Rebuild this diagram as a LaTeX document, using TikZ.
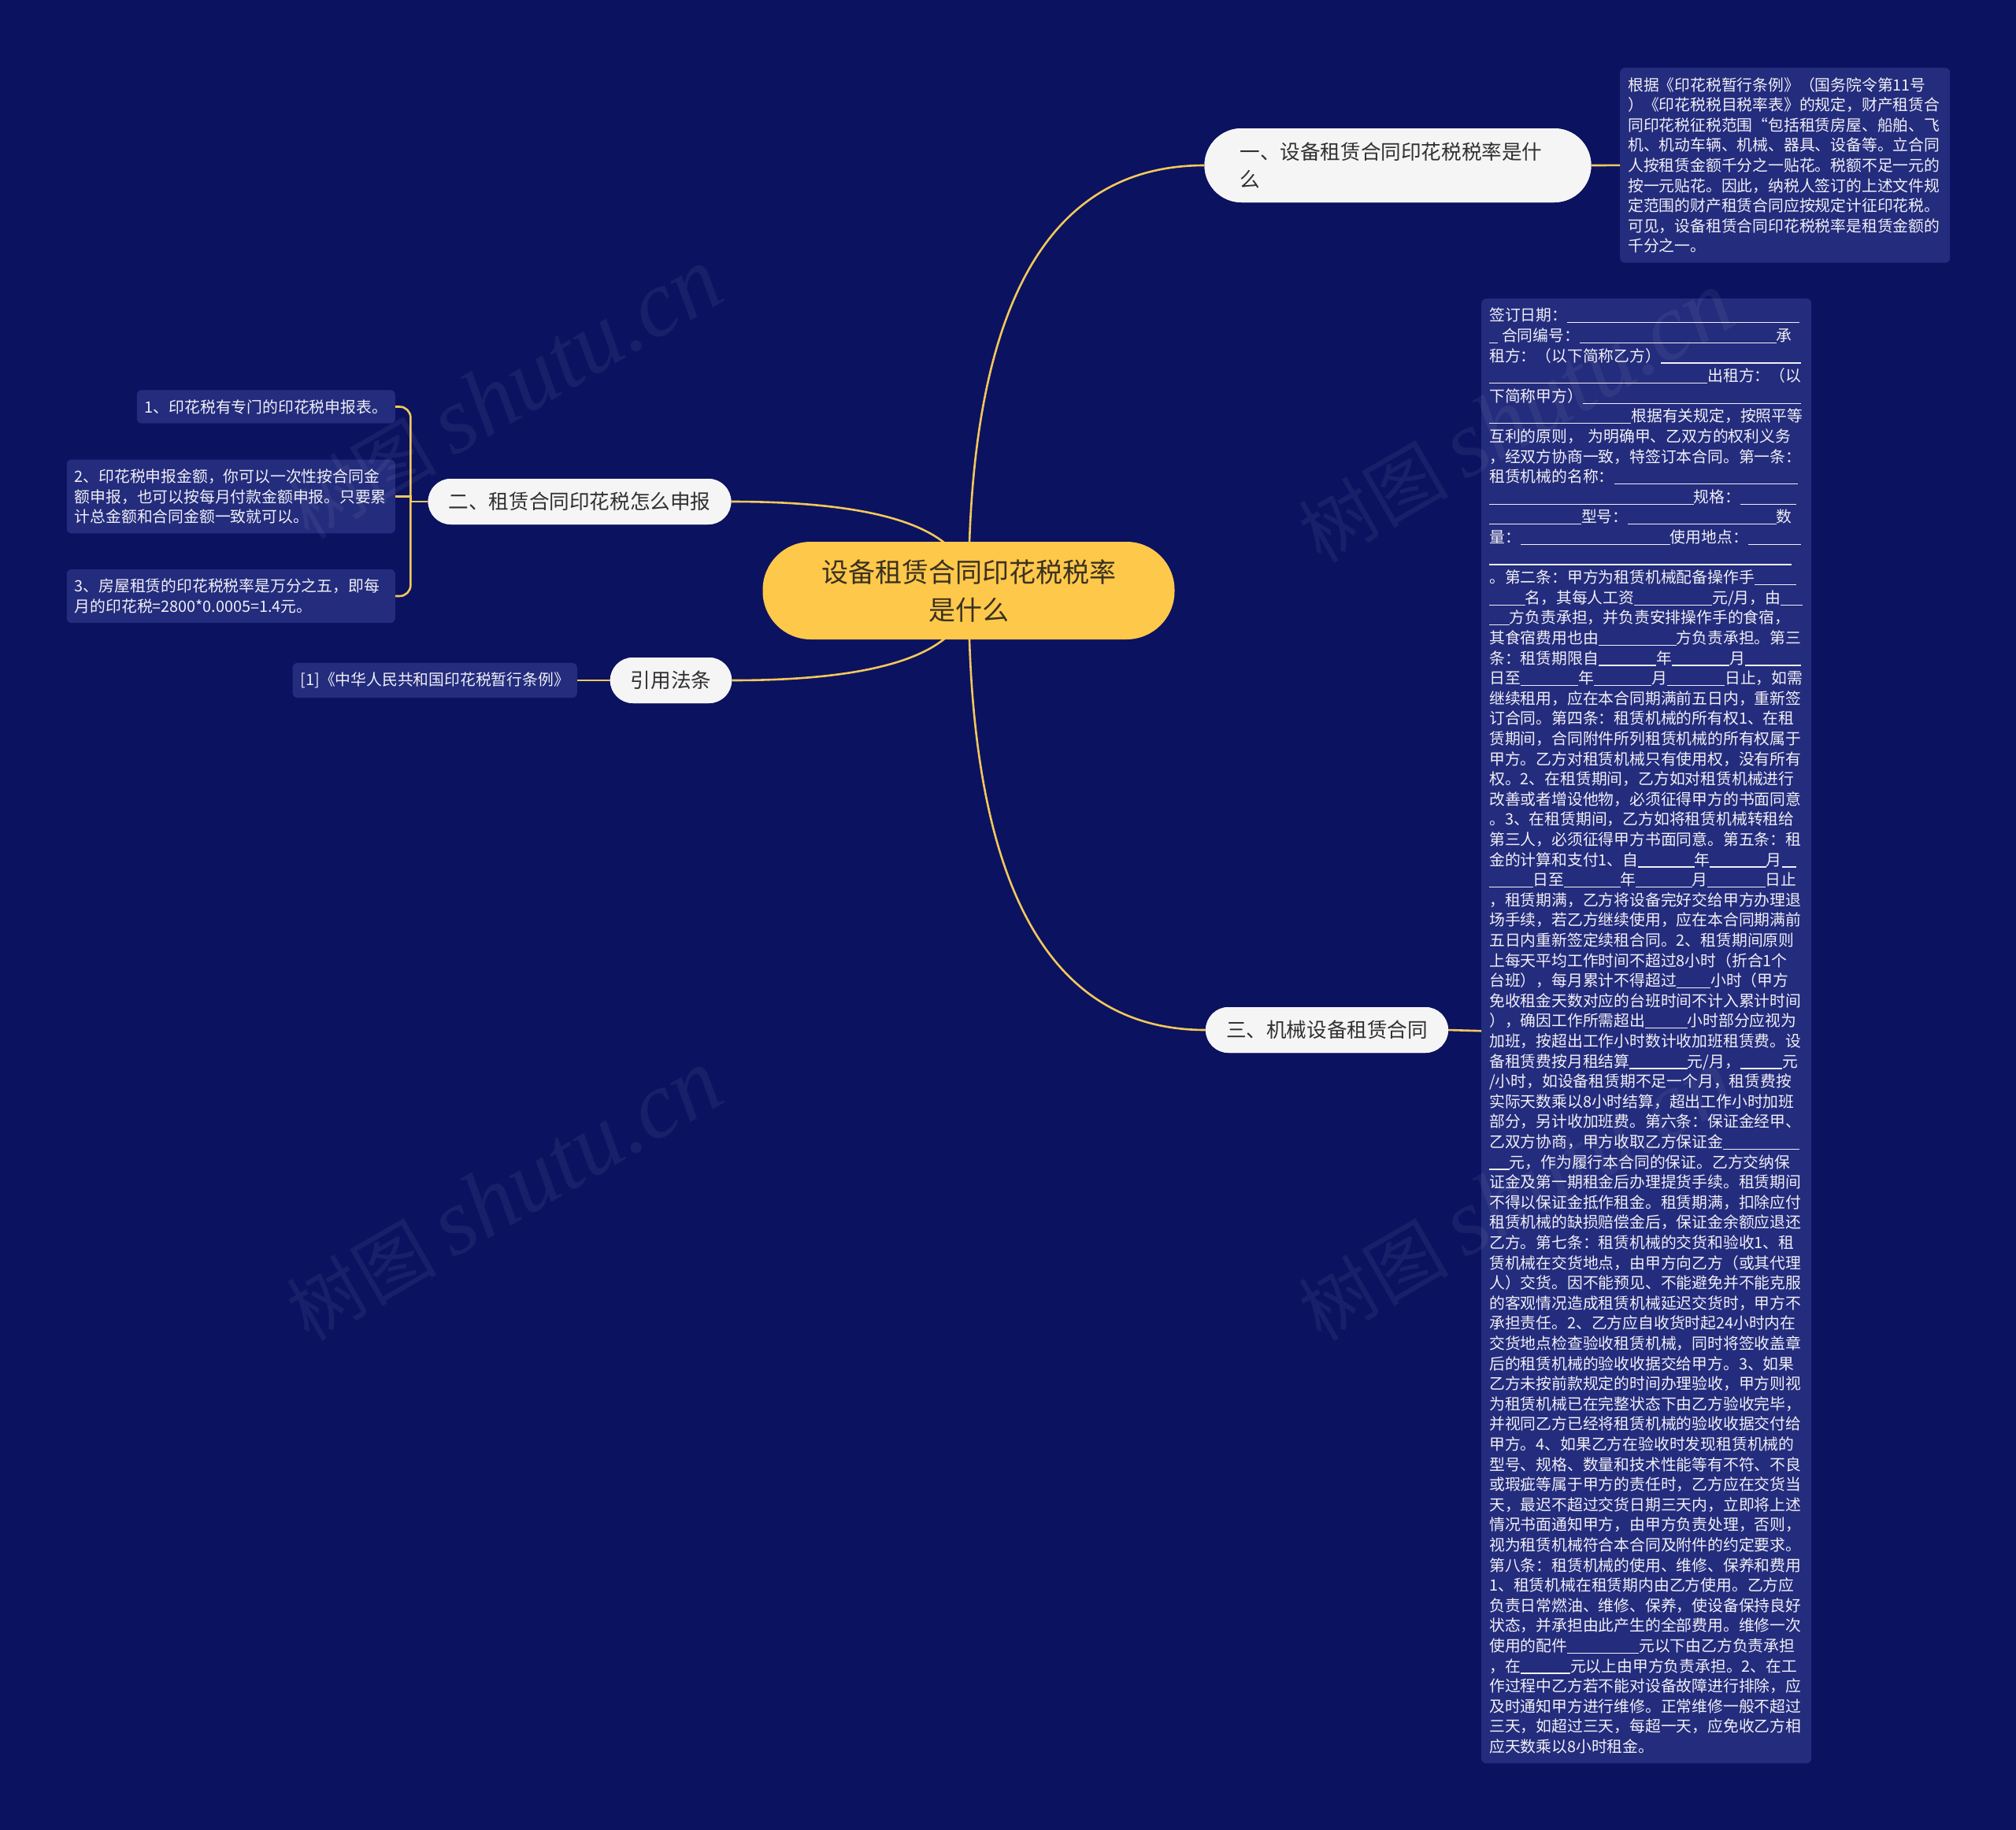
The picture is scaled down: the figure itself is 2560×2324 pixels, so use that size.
\documentclass[tikz,border=0pt]{standalone}
\usepackage{fontspec}
\setmainfont{Noto Sans CJK SC}
\newfontfamily\wmfont{Liberation Serif}
\usetikzlibrary{calc}
\definecolor{bgc}{HTML}{0B1260}
\definecolor{boxc}{HTML}{242C7D}
\definecolor{gold}{HTML}{FEC84B}
\definecolor{linec}{HTML}{F3C85A}
\definecolor{pillc}{HTML}{F5F5F5}
\definecolor{darktext}{HTML}{303030}
\definecolor{roottext}{HTML}{3A3120}
\definecolor{leaftext}{HTML}{F0F0F5}
\newcommand\bl[1]{\rule[-0.12em]{#1em}{0.06em}}
\begin{document}
\begin{tikzpicture}[x=1pt,y=-1pt,
  leafbox/.style={fill=boxc, rounded corners=6pt, text=leaftext,
    font=\fontsize{19.8}{25.6}\selectfont, align=left, inner xsep=10pt, inner ysep=12pt},
  branchbox/.style={fill=pillc, rounded corners=29pt, text=darktext,
    font=\fontsize{25.6}{35}\selectfont, inner xsep=26pt, minimum height=58pt},
  rootbox/.style={fill=gold, rounded corners=61pt, text=roottext,
    font=\fontsize{34}{48}\selectfont, align=center, minimum width=523pt, minimum height=124pt},
  conn/.style={draw=linec, line width=2.6pt},
  wmark/.style={text=white, opacity=0.06, inner sep=0pt}]
\useasboundingbox (0,0) rectangle (2560,2324);
\fill[bgc] (0,0) rectangle (2560,2324);

% nodes (positions)
\coordinate (rc) at (1230,750);
\node[branchbox, text width=401pt, align=left, inner xsep=45pt, rounded corners=47pt, minimum height=94pt] (b1) at (1775,210) {一、设备租赁合同印花税税率是什\\么};
\node[branchbox] (b2) at (736,637) {二、租赁合同印花税怎么申报};
\node[branchbox] (b4) at (852,864) {引用法条};
\node[branchbox] (b3) at (1685,1308) {三、机械设备租赁合同};

% connectors from root
\draw[conn] (rc) .. controls ($(rc)!2/3!(rc |- b1.west)$) and ($(b1.west)!2/3!(rc |- b1.west)$) .. (b1.west);
\draw[conn] (rc) .. controls ($(rc)!2/3!(rc |- b2.east)$) and ($(b2.east)!2/3!(rc |- b2.east)$) .. (b2.east);
\draw[conn] (rc) .. controls ($(rc)!2/3!(rc |- b4.east)$) and ($(b4.east)!2/3!(rc |- b4.east)$) .. (b4.east);
\draw[conn] (rc) .. controls ($(rc)!2/3!(rc |- b3.west)$) and ($(b3.west)!2/3!(rc |- b3.west)$) .. (b3.west);

\node[rootbox] (root) at (rc) {设备租赁合同印花税税率\\是什么};
% redraw branch nodes on top of curves
\node[branchbox, text width=401pt, align=left, inner xsep=45pt, rounded corners=47pt, minimum height=94pt] at (b1) {一、设备租赁合同印花税税率是什\\么};
\node[branchbox] at (b2) {二、租赁合同印花税怎么申报};
\node[branchbox] at (b4) {引用法条};
\node[branchbox] at (b3) {三、机械设备租赁合同};

% leaves
\node[leafbox, anchor=north west, text width=399pt] (t1) at (2057,86) {根据《印花税暂行条例》（国务院令第11号\\
）《印花税税目税率表》的规定，财产租赁合\\
同印花税征税范围“包括租赁房屋、船舶、飞\\
机、机动车辆、机械、器具、设备等。立合同\\
人按租赁金额千分之一贴花。税额不足一元的\\
按一元贴花。因此，纳税人签订的上述文件规\\
定范围的财产租赁合同应按规定计征印花税。\\
可见，设备租赁合同印花税税率是租赁金额的\\
千分之一。};

\node[leafbox, anchor=east] (l1) at (502,516.5) {1、印花税有专门的印花税申报表。};
\node[leafbox, anchor=east, text width=397pt] (l2) at (502,630.5) {2、印花税申报金额，你可以一次性按合同金\\额申报，也可以按每月付款金额申报。只要累\\计总金额和合同金额一致就可以。};
\node[leafbox, anchor=east, text width=397pt] (l3) at (502,757) {3、房屋租赁的印花税税率是万分之五，即每\\月的印花税=2800*0.0005=1.4元。};
\node[leafbox, anchor=east] (l4) at (733,864) {[1]《中华人民共和国印花税暂行条例》};

\node[leafbox, anchor=north west, text width=399pt] (t3) at (1881,379) {签订日期：\bl{14.9}\\
\bl{0.55}\hspace{0.25em}合同编号：\bl{12.6}承\\
租方：（以下简称乙方）\bl{9.0}\\
\bl{14.0}出租方：（以\\
下简称甲方）\bl{14.0}\\
\bl{9.1}根据有关规定，按照平等\\
互利的原则， 为明确甲、乙双方的权利义务\\
，经双方协商一致，特签订本合同。第一条：\\
租赁机械的名称：\bl{11.8}\\
\bl{13.1}规格：\bl{3.6}\\
\bl{5.9}型号：\bl{9.5}数\\
量：\bl{9.6}使用地点：\bl{3.4}\\
\bl{19.4}\\
。第二条：甲方为租赁机械配备操作手\bl{2.7}\\
\bl{2.3}名，其每人工资\bl{5}元/月，由\bl{1.4}\\
\bl{1.3}方负责承担，并负责安排操作手的食宿，\\
其食宿费用也由\bl{5}方负责承担。第三\\
条：租赁期限自\bl{3.7}年\bl{3.7}月\bl{3.6}\\
日至\bl{3.7}年\bl{3.7}月\bl{3.7}日止，如需\\
继续租用，应在本合同期满前五日内，重新签\\
订合同。第四条：租赁机械的所有权1、在租\\
赁期间，合同附件所列租赁机械的所有权属于\\
甲方。乙方对租赁机械只有使用权，没有所有\\
权。2、在租赁期间，乙方如对租赁机械进行\\
改善或者增设他物，必须征得甲方的书面同意\\
。3、在租赁期间，乙方如将租赁机械转租给\\
第三人，必须征得甲方书面同意。第五条：租\\
金的计算和支付1、自\bl{3.6}年\bl{3.6}月\bl{0.95}\\
\bl{2.8}日至\bl{3.6}年\bl{3.6}月\bl{3.7}日止\\
，租赁期满，乙方将设备完好交给甲方办理退\\
场手续，若乙方继续使用，应在本合同期满前\\
五日内重新签定续租合同。2、租赁期间原则\\
上每天平均工作时间不超过8小时（折合1个\\
台班），每月累计不得超过\bl{2.2}小时（甲方\\
免收租金天数对应的台班时间不计入累计时间\\
），确因工作所需超出\bl{2.7}小时部分应视为\\
加班，按超出工作小时数计收加班租赁费。设\\
备租赁费按月租结算\bl{3.7}元/月，\bl{2.7}元\\
/小时，如设备租赁期不足一个月，租赁费按\\
实际天数乘以8小时结算，超出工作小时加班\\
部分，另计收加班费。第六条：保证金经甲、\\
乙双方协商，甲方收取乙方保证金\bl{4.9}\\
\bl{1.3}元，作为履行本合同的保证。乙方交纳保\\
证金及第一期租金后办理提货手续。租赁期间\\
不得以保证金抵作租金。租赁期满，扣除应付\\
租赁机械的缺损赔偿金后，保证金余额应退还\\
乙方。第七条：租赁机械的交货和验收1、租\\
赁机械在交货地点，由甲方向乙方（或其代理\\
人）交货。因不能预见、不能避免并不能克服\\
的客观情况造成租赁机械延迟交货时，甲方不\\
承担责任。2、乙方应自收货时起24小时内在\\
交货地点检查验收租赁机械，同时将签收盖章\\
后的租赁机械的验收收据交给甲方。3、如果\\
乙方未按前款规定的时间办理验收，甲方则视\\
为租赁机械已在完整状态下由乙方验收完毕，\\
并视同乙方已经将租赁机械的验收收据交付给\\
甲方。4、如果乙方在验收时发现租赁机械的\\
型号、规格、数量和技术性能等有不符、不良\\
或瑕疵等属于甲方的责任时，乙方应在交货当\\
天，最迟不超过交货日期三天内，立即将上述\\
情况书面通知甲方，由甲方负责处理，否则，\\
视为租赁机械符合本合同及附件的约定要求。\\
第八条：租赁机械的使用、维修、保养和费用\\
1、租赁机械在租赁期内由乙方使用。乙方应\\
负责日常燃油、维修、保养，使设备保持良好\\
状态，并承担由此产生的全部费用。维修一次\\
使用的配件\bl{4.6}元以下由乙方负责承担\\
，在\bl{3.2}元以上由甲方负责承担。2、在工\\
作过程中乙方若不能对设备故障进行排除，应\\
及时通知甲方进行维修。正常维修一般不超过\\
三天，如超过三天，每超一天，应免收乙方相\\
应天数乘以8小时租金。};

% leaf connectors
\draw[conn] (b1.east) -- (t1.west);
\draw[conn] (b3.east) -- (t3.west);
\draw[conn] (b4.west) -- (l4.east);
\coordinate (j2) at ($(b2.west)+(-22,0)$);
\draw[conn] (b2.west) -- (j2);
\draw[conn, rounded corners=14pt] (j2) |- (l1.east);
\draw[conn, rounded corners=14pt] (j2) |- (l3.east);
\draw[conn] (j2) |- (l2.east);

% watermarks
\node[wmark, rotate=30] (w1) at (640,500) {\fontsize{95}{95}\selectfont 树图 {\wmfont\itshape\fontsize{120}{120}\selectfont shutu.cn}};
\node[wmark, rotate=30] (w2) at (640,1518) {\fontsize{95}{95}\selectfont 树图 {\wmfont\itshape\fontsize{120}{120}\selectfont shutu.cn}};
\node[wmark, rotate=30] (w3) at (1925,530) {\fontsize{95}{95}\selectfont 树图 {\wmfont\itshape\fontsize{120}{120}\selectfont shutu.cn}};
\node[wmark, rotate=30] (w4) at (1925,1518) {\fontsize{95}{95}\selectfont 树图 {\wmfont\itshape\fontsize{120}{120}\selectfont shutu.cn}};
\end{tikzpicture}
\end{document}
